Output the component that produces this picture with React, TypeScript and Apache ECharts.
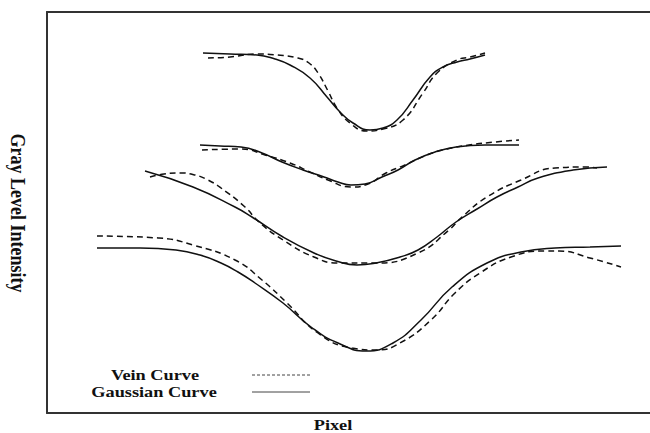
import React, { useEffect, useRef } from "react";
import * as echarts from "echarts";

// x = pixel position, y = gray level intensity (arbitrary units)
const gauss1X = [203, 230, 257, 275, 290, 310, 327, 340, 353, 370, 383, 397, 413, 430, 443, 457, 470, 485];
const gauss1Y = [360, 359, 358, 354, 348, 335, 316, 301, 290, 283, 285, 293, 313, 336, 346, 351, 354, 358];
const vein1X = [208, 230, 257, 277, 298, 309, 318, 328, 337, 350, 367, 383, 403, 423, 437, 457, 470, 485];
const vein1Y = [355, 356, 359, 358, 355, 350, 340, 322, 305, 290, 282, 284, 293, 320, 340, 353, 356, 360];

const gauss2X = [200, 220, 241, 262, 282, 303, 324, 338, 351, 365, 382, 398, 415, 435, 456, 485, 519];
const gauss2Y = [268, 267, 266, 260, 251, 243, 236, 231, 228, 229, 236, 243, 253, 261, 266, 268, 268];
const vein2X = [202, 241, 265, 290, 310, 328, 351, 368, 386, 405, 427, 447, 469, 495, 519];
const vein2Y = [263, 264, 258, 250, 241, 233, 226, 229, 240, 248, 258, 264, 268, 271, 273];

const gauss3X = [145, 193, 235, 252, 283, 314, 336, 357, 376, 400, 418, 437, 456, 477, 497, 518, 538, 573, 607];
const gauss3Y = [242, 226, 206, 196, 176, 160, 152, 148, 150, 156, 163, 176, 191, 204, 216, 226, 235, 243, 246];
const vein3X = [150, 164, 180, 195, 208, 221, 245, 259, 283, 314, 338, 376, 418, 449, 462, 487, 521, 555, 587, 597];
const vein3Y = [236, 239, 240, 238, 233, 225, 206, 191, 173, 156, 150, 150, 160, 183, 196, 216, 233, 245, 246, 245];

const gauss4X = [97, 140, 176, 200, 221, 238, 255, 283, 311, 338, 366, 393, 421, 452, 487, 521, 555, 590, 621];
const gauss4Y = [165, 165, 163, 158, 150, 141, 130, 110, 86, 70, 62, 70, 93, 126, 150, 161, 165, 166, 167];
const vein4X = [97, 159, 193, 235, 262, 287, 318, 352, 376, 400, 431, 455, 480, 511, 545, 559, 590, 621];
const vein4Y = [177, 175, 168, 153, 133, 110, 80, 65, 63, 70, 93, 120, 140, 156, 162, 162, 155, 146];

const legendNames = ["Vein Curve", "Gaussian Curve"];
const xTitle = "Pixel";
const yTitle = "Gray Level Intensity";

const zip = (xs: number[], ys: number[]) => xs.map((x, i) => [x, ys[i]]);

const FONT = "'Liberation Serif', 'Times New Roman', serif";

export default function App() {
  const ref = useRef<HTMLDivElement>(null);
  useEffect(() => {
    if (!ref.current) return;
    const chart = echarts.init(ref.current, null, { renderer: "svg" });
    const solid = (xs: number[], ys: number[]) => ({
      type: "line",
      data: zip(xs, ys),
      smooth: 0.5,
      symbol: "none",
      lineStyle: { color: "#111", width: 1.5, type: "solid" },
      silent: true,
    });
    const dashed = (xs: number[], ys: number[]) => ({
      type: "line",
      data: zip(xs, ys),
      smooth: 0.5,
      symbol: "none",
      lineStyle: { color: "#111", width: 1.5, type: [6, 4] },
      silent: true,
    });
    const hiddenAxis = {
      axisTick: { show: false },
      axisLabel: { show: false },
      splitLine: { show: false },
    };
    const border = { show: true, lineStyle: { color: "#333", width: 2 } };
    chart.setOption({
      animation: false,
      grid: { left: 47, top: 12, right: 0, bottom: 20 },
      xAxis: [
        { type: "value", min: 47, max: 650, position: "bottom", axisLine: border, ...hiddenAxis },
        { type: "value", min: 47, max: 650, position: "top", axisLine: border, ...hiddenAxis },
      ],
      yAxis: {
        type: "value",
        min: 0,
        max: 401,
        position: "left",
        axisLine: border,
        ...hiddenAxis,
      },
      series: [
        solid(gauss1X, gauss1Y),
        dashed(vein1X, vein1Y),
        solid(gauss2X, gauss2Y),
        dashed(vein2X, vein2Y),
        solid(gauss3X, gauss3Y),
        dashed(vein3X, vein3Y),
        solid(gauss4X, gauss4Y),
        dashed(vein4X, vein4Y),
      ],
      graphic: [
        {
          type: "text",
          x: 155,
          y: 375,
          scaleX: 1.22,
          style: {
            text: legendNames[0],
            font: `bold 15px ${FONT}`,
            fill: "#111",
            textAlign: "center",
            textVerticalAlign: "middle",
          },
        },
        {
          type: "text",
          x: 154,
          y: 392,
          scaleX: 1.22,
          style: {
            text: legendNames[1],
            font: `bold 15px ${FONT}`,
            fill: "#111",
            textAlign: "center",
            textVerticalAlign: "middle",
          },
        },
        {
          type: "line",
          shape: { x1: 252, y1: 375, x2: 310, y2: 375 },
          style: { stroke: "#444", lineWidth: 1, lineDash: [3, 2] },
        },
        {
          type: "line",
          shape: { x1: 252, y1: 392, x2: 310, y2: 392 },
          style: { stroke: "#444", lineWidth: 1 },
        },
        {
          type: "text",
          x: 333,
          y: 425,
          scaleX: 1.22,
          style: {
            text: xTitle,
            font: `bold 15px ${FONT}`,
            fill: "#111",
            textAlign: "center",
            textVerticalAlign: "middle",
          },
        },
        {
          type: "text",
          x: 18,
          y: 213,
          rotation: -Math.PI / 2,
          scaleY: 1.15,
          style: {
            text: yTitle,
            font: `bold 18px ${FONT}`,
            fill: "#111",
            textAlign: "center",
            textVerticalAlign: "middle",
          },
        },
      ],
    });
    return () => chart.dispose();
  }, []);
  return (
    <div
      ref={ref}
      style={{ position: "absolute", left: 0, top: 0, width: 650, height: 433 }}
    />
  );
}
